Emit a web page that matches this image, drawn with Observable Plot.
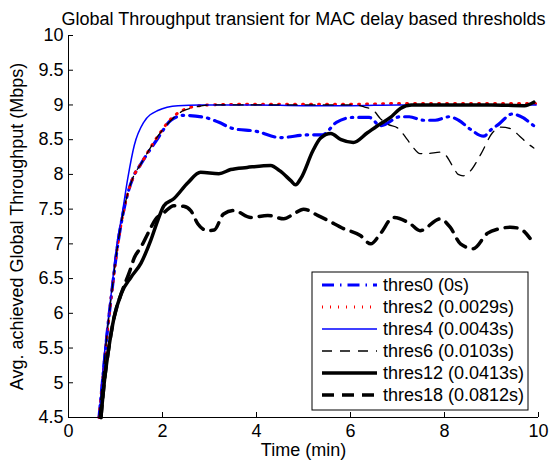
<!DOCTYPE html>
<html><head><meta charset="utf-8">
<script src="https://cdn.jsdelivr.net/npm/d3@7"></script>
<script src="https://cdn.jsdelivr.net/npm/@observablehq/plot@0.6"></script>
<style>
body{margin:0;background:#fff}
svg{font-family:"Liberation Sans",Arial,Helvetica,sans-serif}
</style>
</head><body><div id="chart"></div>
<script>
const titleText = "Global Throughput transient for MAC delay based thresholds";
const xLabel = "Time (min)";
const yLabel = "Avg. achieved Global Throughput (Mbps)";
const xTicks = [0, 2, 4, 6, 8, 10];
const yTicks = [4.5, 5, 5.5, 6, 6.5, 7, 7.5, 8, 8.5, 9, 9.5, 10];
const seriesNames = ["thres0", "thres2", "thres4", "thres6", "thres12", "thres18"];
const legendLabels = ["thres0 (0s)", "thres2 (0.0029s)", "thres4 (0.0043s)", "thres6 (0.0103s)", "thres12 (0.0413s)", "thres18 (0.0812s)"];

const thres0 = [[0.65,4.5],[0.72,5],[0.82,5.7],[0.92,6.3],[1.05,7.0],[1.18,7.5],[1.37,7.95],[1.54,8.15],[1.9,8.52],[2.18,8.78],[2.45,8.85],[2.9,8.82],[3.2,8.75],[3.5,8.66],[4.0,8.62],[4.5,8.53],[5.1,8.57],[5.4,8.57],[5.7,8.75],[6.05,8.82],[6.4,8.82],[6.64,8.70],[7.06,8.83],[7.25,8.83],[7.55,8.78],[7.8,8.78],[8.1,8.83],[8.3,8.78],[8.55,8.65],[8.83,8.55],[9.0,8.65],[9.15,8.72],[9.44,8.87],[9.6,8.84],[9.9,8.70]];
const thres2 = [[0.65,4.5],[0.72,5],[0.82,5.7],[0.92,6.3],[1.05,7.0],[1.18,7.5],[1.37,7.95],[1.54,8.15],[1.9,8.55],[2.18,8.8],[2.45,8.93],[2.7,8.98],[3.0,9.0],[4,9.01],[5,9.01],[6,9.01],[7,9.02],[8,9.02],[9,9.02],[9.95,9.02]];
const thres4 = [[0.65,4.5],[0.75,5.32],[0.9,6.23],[1.05,7.09],[1.12,7.34],[1.26,7.94],[1.4,8.42],[1.6,8.75],[1.9,8.92],[2.33,8.99],[2.8,9.0],[4,9.0],[5,8.99],[6,8.99],[7,9.0],[8,9.0],[9,9.0],[9.95,9.0]];
const thres6 = [[0.65,4.5],[0.72,5],[0.82,5.7],[0.92,6.3],[1.05,7.0],[1.18,7.5],[1.37,7.95],[1.54,8.15],[1.9,8.55],[2.18,8.78],[2.45,8.92],[2.65,8.96],[3.0,9.0],[4,9.0],[5,9.0],[6.1,9.0],[6.3,8.97],[6.49,8.92],[6.64,8.8],[6.8,8.72],[7.0,8.67],[7.21,8.5],[7.32,8.4],[7.48,8.3],[7.63,8.3],[7.91,8.32],[8.02,8.28],[8.19,8.1],[8.29,8.0],[8.4,7.98],[8.55,8.05],[8.78,8.3],[9.02,8.6],[9.2,8.68],[9.4,8.66],[9.6,8.55],[9.76,8.45],[9.9,8.38]];
const thres12 = [[0.69,4.5],[0.76,5.0],[0.84,5.42],[0.97,5.94],[1.12,6.28],[1.33,6.52],[1.54,6.72],[1.75,7.05],[1.9,7.34],[2.03,7.55],[2.24,7.65],[2.54,7.88],[2.81,8.03],[3.2,8.01],[3.45,8.07],[3.8,8.1],[4.3,8.13],[4.5,8.05],[4.73,7.91],[4.83,7.85],[4.95,7.95],[5.2,8.34],[5.36,8.52],[5.58,8.59],[5.8,8.5],[6.06,8.46],[6.36,8.6],[6.64,8.73],[6.85,8.82],[7.06,8.95],[7.3,9.0],[8,9.0],[9,9.0],[9.7,8.99],[9.9,9.04]];
const thres18 = [[0.69,4.5],[0.76,5.0],[0.84,5.42],[0.97,5.94],[1.12,6.28],[1.3,6.6],[1.4,6.8],[1.54,6.95],[1.69,7.15],[1.85,7.35],[2.03,7.45],[2.24,7.55],[2.45,7.54],[2.6,7.48],[2.75,7.29],[2.96,7.19],[3.1,7.2],[3.3,7.43],[3.52,7.48],[3.88,7.38],[4.24,7.41],[4.58,7.36],[4.79,7.43],[5.0,7.5],[5.3,7.41],[5.51,7.34],[5.85,7.22],[6.21,7.12],[6.43,7.0],[6.64,7.15],[6.91,7.38],[7.27,7.29],[7.48,7.19],[7.91,7.36],[8.12,7.24],[8.34,7.0],[8.61,6.93],[8.91,7.15],[9.19,7.22],[9.4,7.24],[9.6,7.22],[9.82,7.08]];

const seriesData = [thres0, thres2, thres4, thres6, thres12, thres18];
const styles = [
  {stroke: "#0000ff", strokeWidth: 3.2, strokeDasharray: "12,6,1.5,6"},
  {stroke: "#ff0000", strokeWidth: 3, strokeDasharray: "1,7"},
  {stroke: "#0000ff", strokeWidth: 1.5},
  {stroke: "#000000", strokeWidth: 1.3, strokeDasharray: "10,8"},
  {stroke: "#000000", strokeWidth: 3.5},
  {stroke: "#000000", strokeWidth: 3.5, strokeDasharray: "12,8"}
];
const table = seriesNames.flatMap((name, i) => seriesData[i].map(([t, v]) => ({series: name, t, v})));

const FS = 18;
const chart = Plot.plot({
  width: 550, height: 466,
  marginLeft: 68, marginRight: 12, marginTop: 35, marginBottom: 49,
  style: {fontFamily: '"Liberation Sans",Arial,sans-serif', fontSize: FS + "px", background: "white", color: "black"},
  x: {domain: [0, 10]},
  y: {domain: [4.5, 10]},
  marks: [
    ...seriesNames.map((name, i) => Plot.line(table.filter(d => d.series === name), {
      x: "t", y: "v", curve: "monotone-x", strokeLinejoin: "round", ...styles[i]
    })),
    Plot.ruleX([0], {stroke: "black", strokeWidth: 1}),
    Plot.ruleY([4.5], {stroke: "black", strokeWidth: 1}),
    Plot.axisX({ticks: xTicks, tickSize: 0, tickPadding: 7, label: null, tickFormat: d => String(d)}),
    Plot.axisX({ticks: xTicks, tickSize: 5, dy: -5, fill: "none", label: null}),
    Plot.axisY({ticks: yTicks, tickSize: 0, tickPadding: 5, label: null, tickFormat: d => String(d)}),
    Plot.axisY({ticks: yTicks, tickSize: 5, dx: 5, fill: "none", label: null}),
    Plot.text([titleText], {frameAnchor: "top", dy: -23, fontSize: FS, fill: "black", textAnchor: "middle"}),
    Plot.text([xLabel], {frameAnchor: "bottom", dy: 38, fontSize: FS, fill: "black", textAnchor: "middle"}),
    Plot.text([yLabel], {frameAnchor: "left", dx: -51, rotate: -90, fontSize: FS, fill: "black", textAnchor: "middle"})
  ]
});

const svg = d3.select(chart);
const lg = svg.append("g");
const lx = 312, ly = 272, lw = 216, lh = 138;
lg.append("rect").attr("x", lx).attr("y", ly).attr("width", lw).attr("height", lh)
  .attr("fill", "white").attr("stroke", "black").attr("stroke-width", 1);
legendLabels.forEach((lab, i) => {
  const cy = 285 + i * 22;
  const s = styles[i];
  lg.append("line").attr("x1", 322).attr("x2", 377).attr("y1", cy).attr("y2", cy)
    .attr("stroke", s.stroke).attr("stroke-width", s.strokeWidth)
    .attr("stroke-dasharray", s.strokeDasharray || null);
  lg.append("text").attr("x", 383).attr("y", cy).attr("dy", "0.35em")
    .attr("text-anchor", "start")
    .attr("font-size", FS).attr("fill", "black").text(lab);
});
document.getElementById("chart").appendChild(chart);
</script>
</body></html>
